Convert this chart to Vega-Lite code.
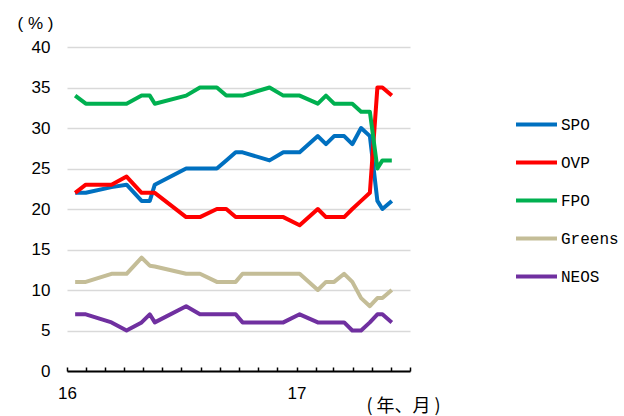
{
  "$schema": "https://vega.github.io/schema/vega-lite/v6.json",
  "width": 343,
  "height": 324,
  "autosize": {"type": "none"},
  "padding": {"left": 67, "top": 47, "right": 214, "bottom": 45},
  "background": "white",
  "config": {"view": {"stroke": null}},
  "data": {
    "values": [
      {"date": "2016-01-14T00:00:00", "SPO": 22, "OVP": 22, "FPO": 34, "Greens": 11, "NEOS": 7},
      {"date": "2016-01-31T00:00:00", "SPO": 22, "OVP": 23, "FPO": 33, "Greens": 11, "NEOS": 7},
      {"date": "2016-03-12T00:00:00", "SPO": 22.7, "OVP": 23, "FPO": 33, "Greens": 12, "NEOS": 6},
      {"date": "2016-04-05T00:00:00", "SPO": 23, "OVP": 24, "FPO": 33, "Greens": 12, "NEOS": 5},
      {"date": "2016-04-29T00:00:00", "SPO": 21, "OVP": 22, "FPO": 34, "Greens": 14, "NEOS": 6},
      {"date": "2016-05-12T00:00:00", "SPO": 21, "OVP": 22, "FPO": 34, "Greens": 13, "NEOS": 7},
      {"date": "2016-05-20T00:00:00", "SPO": 23, "OVP": 22, "FPO": 33, "Greens": 12.9, "NEOS": 6},
      {"date": "2016-07-09T00:00:00", "SPO": 25, "OVP": 19, "FPO": 34, "Greens": 12, "NEOS": 8},
      {"date": "2016-07-31T00:00:00", "SPO": 25, "OVP": 19, "FPO": 35, "Greens": 12, "NEOS": 7},
      {"date": "2016-08-27T00:00:00", "SPO": 25, "OVP": 20, "FPO": 35, "Greens": 11, "NEOS": 7},
      {"date": "2016-09-11T00:00:00", "SPO": 26, "OVP": 20, "FPO": 34, "Greens": 11, "NEOS": 7},
      {"date": "2016-09-26T00:00:00", "SPO": 27, "OVP": 19, "FPO": 34, "Greens": 11, "NEOS": 7},
      {"date": "2016-10-07T00:00:00", "SPO": 27, "OVP": 19, "FPO": 34, "Greens": 12, "NEOS": 6},
      {"date": "2016-11-19T00:00:00", "SPO": 26, "OVP": 19, "FPO": 35, "Greens": 12, "NEOS": 6},
      {"date": "2016-12-11T00:00:00", "SPO": 27, "OVP": 19, "FPO": 34, "Greens": 12, "NEOS": 6},
      {"date": "2017-01-06T00:00:00", "SPO": 27, "OVP": 18, "FPO": 34, "Greens": 12, "NEOS": 7},
      {"date": "2017-02-04T00:00:00", "SPO": 29, "OVP": 20, "FPO": 33, "Greens": 10, "NEOS": 6},
      {"date": "2017-02-17T00:00:00", "SPO": 28, "OVP": 19, "FPO": 34, "Greens": 11, "NEOS": 6},
      {"date": "2017-03-02T00:00:00", "SPO": 29, "OVP": 19, "FPO": 33, "Greens": 11, "NEOS": 6},
      {"date": "2017-03-18T00:00:00", "SPO": 29, "OVP": 19, "FPO": 33, "Greens": 12, "NEOS": 6},
      {"date": "2017-03-31T00:00:00", "SPO": 28, "OVP": 20, "FPO": 33, "Greens": 11, "NEOS": 5},
      {"date": "2017-04-14T00:00:00", "SPO": 30, "OVP": 21, "FPO": 32, "Greens": 9, "NEOS": 5},
      {"date": "2017-04-28T00:00:00", "SPO": 29, "OVP": 22, "FPO": 32, "Greens": 8, "NEOS": 6},
      {"date": "2017-05-10T00:00:00", "SPO": 21, "OVP": 35, "FPO": 25, "Greens": 9, "NEOS": 7},
      {"date": "2017-05-18T00:00:00", "SPO": 20, "OVP": 35, "FPO": 26, "Greens": 9, "NEOS": 7},
      {"date": "2017-06-02T00:00:00", "SPO": 21, "OVP": 34, "FPO": 26, "Greens": 10, "NEOS": 6}
    ]
  },
  "transform": [
    {"fold": ["SPO", "OVP", "FPO", "Greens", "NEOS"], "as": ["party", "value"]}
  ],
  "mark": {"type": "line", "strokeWidth": 4, "strokeJoin": "round"},
  "encoding": {
    "x": {
      "field": "date",
      "type": "temporal",
      "scale": {"domain": [{"year": 2016, "month": 1, "date": 1}, {"year": 2017, "month": 7, "date": 1}]},
      "axis": {
        "title": "(  年、月  )",
        "titleFont": "Noto Sans CJK JP",
        "titleFontSize": 18,
        "titleFontWeight": "normal",
        "titleColor": "black",
        "titleAlign": "center",
        "titleBaseline": "middle",
        "titleX": 336,
        "titleY": 35,
        "values": [
          {"year": 2016, "month": 1, "date": 1}, {"year": 2016, "month": 2, "date": 1}, {"year": 2016, "month": 3, "date": 1},
          {"year": 2016, "month": 4, "date": 1}, {"year": 2016, "month": 5, "date": 1}, {"year": 2016, "month": 6, "date": 1},
          {"year": 2016, "month": 7, "date": 1}, {"year": 2016, "month": 8, "date": 1}, {"year": 2016, "month": 9, "date": 1},
          {"year": 2016, "month": 10, "date": 1}, {"year": 2016, "month": 11, "date": 1}, {"year": 2016, "month": 12, "date": 1},
          {"year": 2017, "month": 1, "date": 1}, {"year": 2017, "month": 2, "date": 1}, {"year": 2017, "month": 3, "date": 1},
          {"year": 2017, "month": 4, "date": 1}, {"year": 2017, "month": 5, "date": 1}, {"year": 2017, "month": 6, "date": 1},
          {"year": 2017, "month": 7, "date": 1}
        ],
        "labelExpr": "month(datum.value) == 0 ? timeFormat(datum.value, '%y') : ''",
        "labelFont": "Liberation Sans",
        "labelFontSize": 17,
        "labelColor": "black",
        "labelAngle": 0,
        "labelAlign": "center",
        "labelPadding": 18,
        "labelOverlap": false,
        "labelFlush": false,
        "grid": false,
        "domainColor": "black",
        "domainWidth": 2,
        "tickColor": "black",
        "tickWidth": 1.5,
        "tickSize": -4
      }
    },
    "y": {
      "field": "value",
      "type": "quantitative",
      "scale": {"domain": [0, 40]},
      "axis": {
        "title": "(  %  )",
        "titleFont": "Liberation Sans",
        "titleFontSize": 17,
        "titleFontWeight": "normal",
        "titleColor": "black",
        "titleAngle": 0,
        "titleAlign": "center",
        "titleBaseline": "middle",
        "titleX": -32,
        "titleY": -24,
        "values": [0, 5, 10, 15, 20, 25, 30, 35, 40],
        "labelFont": "Liberation Sans",
        "labelFontSize": 17,
        "labelColor": "black",
        "labelPadding": 17,
        "ticks": false,
        "domain": false,
        "grid": true,
        "gridColor": "#d9d9d9",
        "gridWidth": 1.5
      }
    },
    "color": {
      "field": "party",
      "type": "nominal",
      "sort": ["SPO", "OVP", "FPO", "Greens", "NEOS"],
      "scale": {
        "domain": ["SPO", "OVP", "FPO", "Greens", "NEOS"],
        "range": ["#0070C0", "#FF0000", "#00B050", "#C4BD97", "#7030A0"]
      },
      "legend": {
        "title": null,
        "orient": "none",
        "legendX": 447,
        "legendY": 55,
        "padding": 0,
        "symbolType": "stroke",
        "symbolSize": 1681,
        "symbolStrokeWidth": 4,
        "rowPadding": 7,
        "labelOffset": 2,
        "labelFont": "Liberation Mono",
        "labelFontSize": 16,
        "labelColor": "black"
      }
    }
  }
}
